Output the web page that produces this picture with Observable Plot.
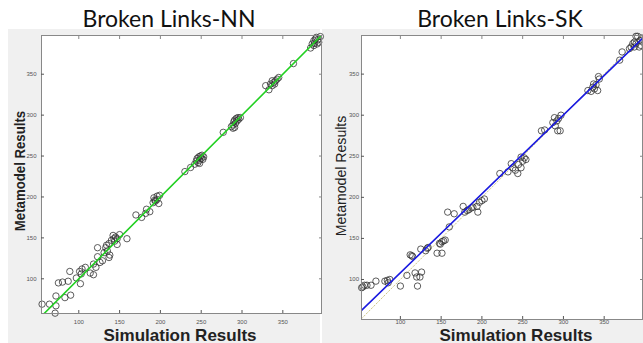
<!DOCTYPE html>
<html><head><meta charset="utf-8">
<script src="https://cdn.jsdelivr.net/npm/d3@7"></script>
<script src="https://cdn.jsdelivr.net/npm/@observablehq/plot@0.6"></script>
<style>
body{margin:0;background:#fff;}
#wrap{position:relative;width:643px;height:343px;overflow:hidden;background:#fff;font-family:"Liberation Sans",Arial,sans-serif;}
.panel{position:absolute;background:#f0f0f0;}
.plot{position:absolute;}
.title{position:absolute;font-family:Lato,"Open Sans",sans-serif;font-size:23px;line-height:1;color:#111;white-space:nowrap;transform:translateX(-50%);}
.xl{position:absolute;font-weight:bold;font-size:17px;line-height:13px;color:#222;white-space:nowrap;transform:translateX(-50%);}
.yl{position:absolute;font-size:15px;line-height:13px;color:#222;white-space:nowrap;}
</style></head>
<body>
<div id="wrap">
  <div class="panel" style="left:8px;top:29px;width:312px;height:314px;"></div>
  <div class="panel" style="left:322px;top:29px;width:321px;height:314px;"></div>
  <div id="p1" class="plot" style="left:8px;top:29px;"></div>
  <div id="p2" class="plot" style="left:322px;top:29px;"></div>
  <div class="title" style="left:169px;top:7px;">Broken Links-NN</div>
  <div class="title" style="left:500px;top:7px;">Broken Links-SK</div>
  <div class="xl" style="left:180px;top:328.5px;">Simulation Results</div>
  <div class="xl" style="left:516px;top:328.5px;">Simulation Results</div>
  <div class="yl" style="left:19px;top:171px;font-weight:bold;transform:translate(-50%,-50%) rotate(-90deg) scaleX(0.88);">Metamodel Results</div>
  <div class="yl" style="left:340px;top:176px;transform:translate(-50%,-50%) rotate(-90deg) scaleX(0.94);">Metamodel Results</div>
</div>
<script>
// ---- Data ----
const tickValues = [100, 150, 200, 250, 300, 350];

// Broken Links-NN: simulation vs metamodel
const nnSim  = [55,64,72,72,71,83,90,75,80,87,89,97,102,101,104,103,108,114,118,118,121,123,126,123,129,133,135,131,137,138,134,137,140,142,145,147,150,144,147,159,143,170,177,182,183,187,192,194,196,198,199,191,193,196,230,237,242,244,245,246,247,248,249,250,251,252,248,253,277,287,289,290,291,292,293,294,295,296,298,291,289,333,329,337,341,345,337,339,335,343,340,363,384,386,388,390,392,394,388,391,389,393,396];
const nnMeta = [69,69,79,67,58,77,80,95,96,97,109,101,94,109,112,106,114,107,105,118,114,127,120,138,122,138,134,132,126,129,141,143,147,153,151,149,154,146,142,149,149,178,175,180,185,182,199,195,201,192,202,193,196,197,231,236,240,244,247,242,249,245,250,247,251,246,241,249,279,286,288,292,294,290,296,293,297,295,297,285,284,331,336,342,342,346,336,340,338,344,338,363,382,387,391,393,387,389,385,395,388,392,396];
const nnXDomain = [54.3, 397.4];
const nnYDomain = [57.6, 397.3];
const nnFit = [0, 1];            // intercept, slope of green line

// Broken Links-SK: simulation vs metamodel
const skSim  = [52.5,54,56,59,64,70,81,84,87,85,100,108,118,120,124,126,121,112,114,115,125,131,134,133,145,151,148,151,153,155,149,158,160,166,177,179,182,184,187,189,194,195,197,200,203,222,232,238,241,245,248,250,252,254,244,236,248,273,277,293,296,290,292,294,289,297,287,330,334,338,342,336,340,343,344,337,369,372,381,383,385,387,389,391,393,395,387,389,396,394];
const skMeta = [90,91,93,93,93,98,98,99,100,96,92,105,108,103,103,109,92,130,129,128,137,135,139,138,132,132,144,146,147,148,143,182,164,180,189,182,184,185,187,188,189,182,194,196,198,229,231,236,233,240,236,244,248,246,229,241,249,281,282,281,281,287,293,296,297,300,291,330,329,332,330,334,337,347,344,338,367,377,381,383,387,389,396,396,383,385,383,387,394,391];
const skXDomain = [52.3, 397];
const skYDomain = [51.3, 397];
const skFit = [12.1, 0.961];     // intercept, slope of blue line
const identity = [0, 1];

function panel({sim, meta, xDomain, yDomain, fit, color, width, height, margin, showIdentity, xPad, yPad}) {
  const pts = sim.map((s, i) => ({sim: s, meta: meta[i]}));
  const fitPts = xDomain.map(x => ({sim: x, meta: fit[0] + fit[1] * x}));
  const idPts = xDomain.map(x => ({sim: x, meta: identity[0] + identity[1] * x}));
  return Plot.plot({
    width, height,
    marginLeft: margin[0], marginRight: margin[1], marginTop: margin[2], marginBottom: margin[3],
    style: {background: "transparent", overflow: "visible", fontFamily: "Liberation Sans, Arial, sans-serif"},
    x: {domain: xDomain},
    y: {domain: yDomain},
    marks: [
      Plot.frame({fill: "white", stroke: null}),
      showIdentity ? Plot.line(idPts, {x: "sim", y: "meta", stroke: "#cfc98a", strokeWidth: 1, strokeDasharray: "1.5,2", clip: true}) : null,
      Plot.dot(pts, {x: "sim", y: "meta", r: 3.2, stroke: "#333", strokeWidth: 0.8, fill: "none"}),
      Plot.line(fitPts, {x: "sim", y: "meta", stroke: color, strokeWidth: 1.6, clip: true}),
      Plot.frame({stroke: "#888", strokeWidth: 1}),
      Plot.axisX(tickValues, {anchor: "bottom", tickSize: -3, tickPadding: xPad, fontSize: 6, color: "#555", label: null}),
      Plot.axisX(tickValues, {anchor: "top", tickSize: -3, tickFormat: () => "", color: "#888", label: null}),
      Plot.axisY(tickValues, {anchor: "left", tickSize: -3, tickPadding: yPad, fontSize: 6, color: "#555", label: null}),
      Plot.axisY(tickValues, {anchor: "right", tickSize: -3, tickFormat: () => "", color: "#888", label: null})
    ]
  });
}

document.getElementById("p1").append(panel({
  sim: nnSim, meta: nnMeta, xDomain: nnXDomain, yDomain: nnYDomain, fit: nnFit,
  color: "#22d022", width: 314, height: 314, margin: [33, 1, 6, 30], showIdentity: false, xPad: 9.5, yPad: 8
}));
document.getElementById("p2").append(panel({
  sim: skSim, meta: skMeta, xDomain: skXDomain, yDomain: skYDomain, fit: skFit,
  color: "#1a1ae0", width: 321, height: 314, margin: [39, 1, 6, 24], showIdentity: true, xPad: 3.5, yPad: 5.5
}));
</script>
</body></html>
